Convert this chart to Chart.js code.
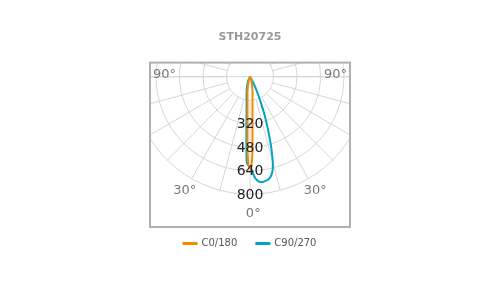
<!DOCTYPE html>
<html><head><meta charset="utf-8">
<script src="https://cdn.jsdelivr.net/npm/chart.js@4/dist/chart.umd.min.js"></script>
<style>html,body{margin:0;padding:0;background:#fff}#wrap{width:500px;height:300px}</style>
</head><body><div id="wrap"><canvas id="c" width="500" height="300"></canvas></div>
<script>
// ---- data ----
const chartTitle = 'STH20725';
const seriesNames = ['C0/180', 'C90/270'];
const seriesColors = ['#f08a00', '#00a3c4'];
// C0/180 plane: angle (deg from nadir, + = right) and intensity (cd)
const anglesC0 = [-180, -90, -45, -30, -20, -15, -10, -8, -6, -5, -4, -3, -2.5, -2, -1.5, -1, -0.5, 0, 0.5, 1, 1.5, 2, 2.5, 3, 4, 5, 6, 8, 10, 15, 20, 30, 45, 90, 180];
const valuesC0 = [0, 0, 0, 8, 25, 45, 98, 122, 163, 195, 244, 325, 390, 488, 550, 595, 612, 620, 612, 595, 550, 488, 390, 325, 244, 195, 163, 122, 98, 45, 25, 8, 0, 0, 0];
// C90/270 plane
const anglesC90 = [-180, -90, -45, -35, -25, -17, -13, -10, -8, -7, -6, -5, -4, -3.5, -3, -2.5, -2, -1, 0, 1, 2, 3, 4, 5, 6, 7, 8, 9, 10, 11, 12, 13, 14, 15, 16, 17, 18, 19, 20, 21, 22, 24, 26, 28, 30, 35, 90, 180];
const valuesC90 = [0, 0, 0, 0, 30, 70, 100, 136, 165, 190, 225, 272, 350, 400, 460, 545, 585, 600, 614, 630, 660, 685, 700, 710, 714, 715, 713, 710, 705, 697, 685, 667, 640, 600, 545, 490, 430, 378, 322, 280, 230, 150, 100, 50, 20, 0, 0, 0];
// grid
const ringValues = [160, 320, 480, 640, 800];
const ringLabelValues = [320, 480, 640, 800];
const spokeStepDeg = 15;
const angleLabels = ['90°', '30°', '0°', '30°', '90°'];
const angleLabelAngles = [-90, -30, 0, 30, 90];

// ---- helpers ----
const rad = d => d * Math.PI / 180;
const toXY = (a, v) => ({ x: v * Math.sin(rad(a)), y: -v * Math.cos(rad(a)) });
const FONT = "'DejaVu Sans', sans-serif";

// frame of the diagram in data units (cd)
const frame = { xMin: -681, xMax: 681, yMin: -1014, yMax: 95.3 };

const polarGrid = {
  id: 'polarGrid',
  beforeDatasetsDraw(chart) {
    const { ctx, scales: { x, y } } = chart;
    const px = v => x.getPixelForValue(v), py = v => y.getPixelForValue(v);
    const cx = px(0), cy = py(0);
    const k = (px(1000) - cx) / 1000;
    const L = px(frame.xMin), R = px(frame.xMax), T = py(frame.yMax), B = py(frame.yMin);
    ctx.save();
    ctx.beginPath(); ctx.rect(L, T, R - L, B - T); ctx.clip();
    ctx.strokeStyle = '#d6d6d6'; ctx.lineWidth = 1;
    ringValues.forEach(r => { ctx.beginPath(); ctx.arc(cx, cy, r * k, 0, Math.PI * 2); ctx.stroke(); });
    const rIn = ringValues[0], rOut = ringValues[ringValues.length - 1];
    for (let a = 0; a < 360; a += spokeStepDeg) {
      const p1 = toXY(a, rIn), p2 = toXY(a, rOut);
      ctx.beginPath(); ctx.moveTo(px(p1.x), py(p1.y)); ctx.lineTo(px(p2.x), py(p2.y)); ctx.stroke();
    }
    ctx.beginPath(); ctx.moveTo(L, cy); ctx.lineTo(R, cy); ctx.stroke();
    ctx.restore();
    ctx.save();
    ctx.strokeStyle = '#b0b0b0'; ctx.lineWidth = 2;
    ctx.strokeRect(L, T, R - L, B - T);
    ctx.restore();
  },
  afterDatasetsDraw(chart) {
    const { ctx, scales: { x, y } } = chart;
    const px = v => x.getPixelForValue(v), py = v => y.getPixelForValue(v);
    const L = px(frame.xMin), R = px(frame.xMax);
    ctx.save();
    ctx.textBaseline = 'middle';
    ctx.font = '14px ' + FONT; ctx.fillStyle = '#222'; ctx.textAlign = 'center';
    ringLabelValues.forEach(r => { const p = toXY(0, r); ctx.fillText(String(r), px(p.x), py(p.y)); });
    ctx.font = '13px ' + FONT; ctx.fillStyle = '#777';
    angleLabels.forEach((t, i) => {
      const a = angleLabelAngles[i];
      if (Math.abs(a) === 90) {
        const yy = py(0) - 2;
        ctx.textAlign = a < 0 ? 'left' : 'right';
        ctx.fillText(t, a < 0 ? L + 3 : R - 3, yy);
      } else if (a === 0) {
        const p = toXY(0, 925);
        ctx.textAlign = 'left';
        ctx.fillText(t, px(p.x) - ctx.measureText('0').width / 2, py(p.y));
      } else {
        const p = toXY(a, 890);
        ctx.textAlign = 'center';
        ctx.fillText(t, px(p.x), py(p.y));
      }
    });
    ctx.restore();
  }
};

const mk = (angles, values) => angles.map((a, i) => toXY(a, values[i]));

new Chart(document.getElementById('c'), {
  type: 'scatter',
  data: {
    datasets: [
      { label: seriesNames[0], data: mk(anglesC0, valuesC0), borderColor: seriesColors[0], backgroundColor: seriesColors[0], borderWidth: 2, showLine: true, pointRadius: 0, tension: 0.2, fill: false },
      { label: seriesNames[1], data: mk(anglesC90, valuesC90), borderColor: seriesColors[1], backgroundColor: seriesColors[1], borderWidth: 2, showLine: true, pointRadius: 0, tension: 0.2, fill: false }
    ]
  },
  options: {
    responsive: false, animation: false, devicePixelRatio: 1,
    layout: { padding: { top: 21, left: 150, right: 150, bottom: 41.5 } },
    scales: {
      x: { type: 'linear', min: frame.xMin, max: frame.xMax, display: false },
      y: { type: 'linear', min: -963.4, max: frame.yMax, display: false }
    },
    plugins: {
      title: { display: true, text: chartTitle, color: '#999', font: { family: FONT, size: 11, weight: 'bold' }, padding: { top: 10, bottom: 18.4 } },
      legend: { position: 'bottom', labels: { boxWidth: 13, boxHeight: 1, padding: 19, color: '#555', font: { family: FONT, size: 10 } } },
      tooltip: { enabled: false }
    }
  },
  plugins: [polarGrid]
});
</script>
</body></html>
